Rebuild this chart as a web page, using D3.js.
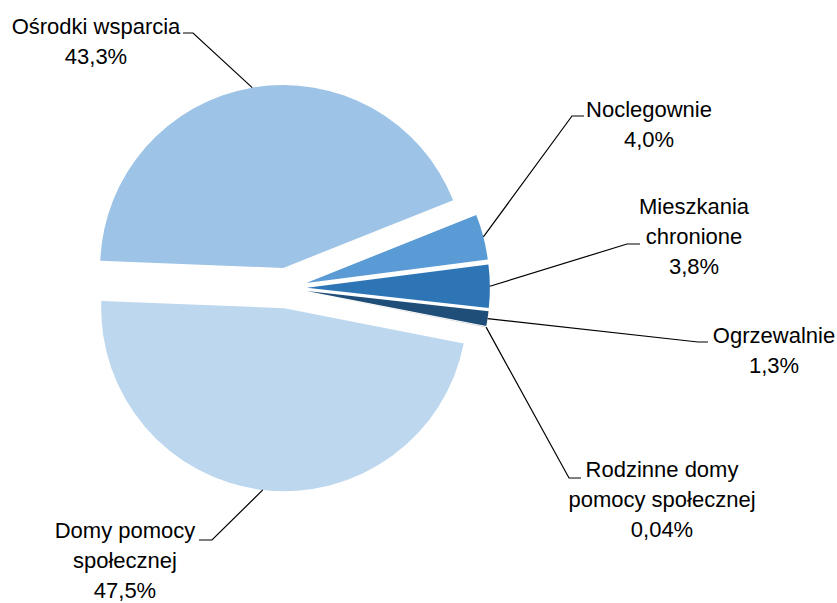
<!DOCTYPE html>
<html lang="pl">
<head>
<meta charset="utf-8">
<title>Struktura</title>
<script src="https://d3js.org/d3.v7.min.js"></script>
<style>
  body { margin: 0; background: #fff; }
  text { font-family: "Liberation Sans", Arial, sans-serif; font-size: 22px; fill: #000; }
</style>
</head>
<body>
<script>
// data, in drawing order (clockwise from the upper right)
var labels = [
  ["Noclegownie"],
  ["Mieszkania", "chronione"],
  ["Ogrzewalnie"],
  ["Rodzinne domy", "pomocy społecznej"],
  ["Domy pomocy", "społecznej"],
  ["Ośrodki wsparcia"]
];
var values = [4.0, 3.8, 1.3, 0.04, 47.5, 43.3];
var valueText = ["4,0%", "3,8%", "1,3%", "0,04%", "47,5%", "43,3%"];
var colors = ["#5b9bd5", "#2e75b6", "#1f4e79", "#8c8c8c", "#bdd7ee", "#9dc3e6"];

var w = 837, h = 603;
var cx = 286.6, cy = 288, r = 183, explode = 20.3;
var start = 68.25 * Math.PI / 180;

// label layout: text centre, first baseline, elbow of leader, horizontal end
var labelPos = [
  {x: 649, y: 117, ex: 572, ey: 116, hx: 584},
  {x: 694, y: 214, ex: 627, ey: 244, hx: 640},
  {x: 774, y: 343, ex: 698, ey: 342, hx: 708},
  {x: 662, y: 477, ex: 569, ey: 478, hx: 581},
  {x: 125, y: 538, ex: 212, ey: 540, hx: 199},
  {x: 96,  y: 34,  ex: 193, ey: 33,  hx: 183}
];

var svg = d3.select("body").append("svg")
  .attr("width", w).attr("height", h);

var pie = d3.pie().sort(null).value(d => d)
  .startAngle(start).endAngle(start + 2 * Math.PI);
var arcs = pie(values);
var arc = d3.arc().innerRadius(0).outerRadius(r);

function offset(d) {
  var a = (d.startAngle + d.endAngle) / 2;
  return [Math.sin(a) * explode, -Math.cos(a) * explode];
}

var g = svg.append("g").attr("transform", `translate(${cx},${cy})`);

g.selectAll("path.slice")
  .data(arcs)
  .enter().append("path")
    .attr("class", "slice")
    .attr("transform", d => `translate(${offset(d)})`)
    .attr("d", arc)
    .attr("fill", (d, i) => colors[i]);

// leader lines
var lead = svg.append("g");
arcs.forEach(function(d, i) {
  var a = (d.startAngle + d.endAngle) / 2;
  var o = offset(d);
  var px = cx + o[0] + Math.sin(a) * r;
  var py = cy + o[1] - Math.cos(a) * r;
  var p = labelPos[i];
  lead.append("polyline")
    .attr("points", [[p.hx, p.ey], [p.ex, p.ey], [px, py]].join(" "))
    .attr("fill", "none")
    .attr("stroke", "#000")
    .attr("stroke-width", 1.2);
});

// labels
arcs.forEach(function(d, i) {
  var p = labelPos[i];
  var lines = labels[i].concat([valueText[i]]);
  var t = svg.append("text").attr("text-anchor", "middle");
  lines.forEach(function(s, k) {
    t.append("tspan").attr("x", p.x).attr("y", p.y + k * 30).text(s);
  });
});
</script>
</body>
</html>
